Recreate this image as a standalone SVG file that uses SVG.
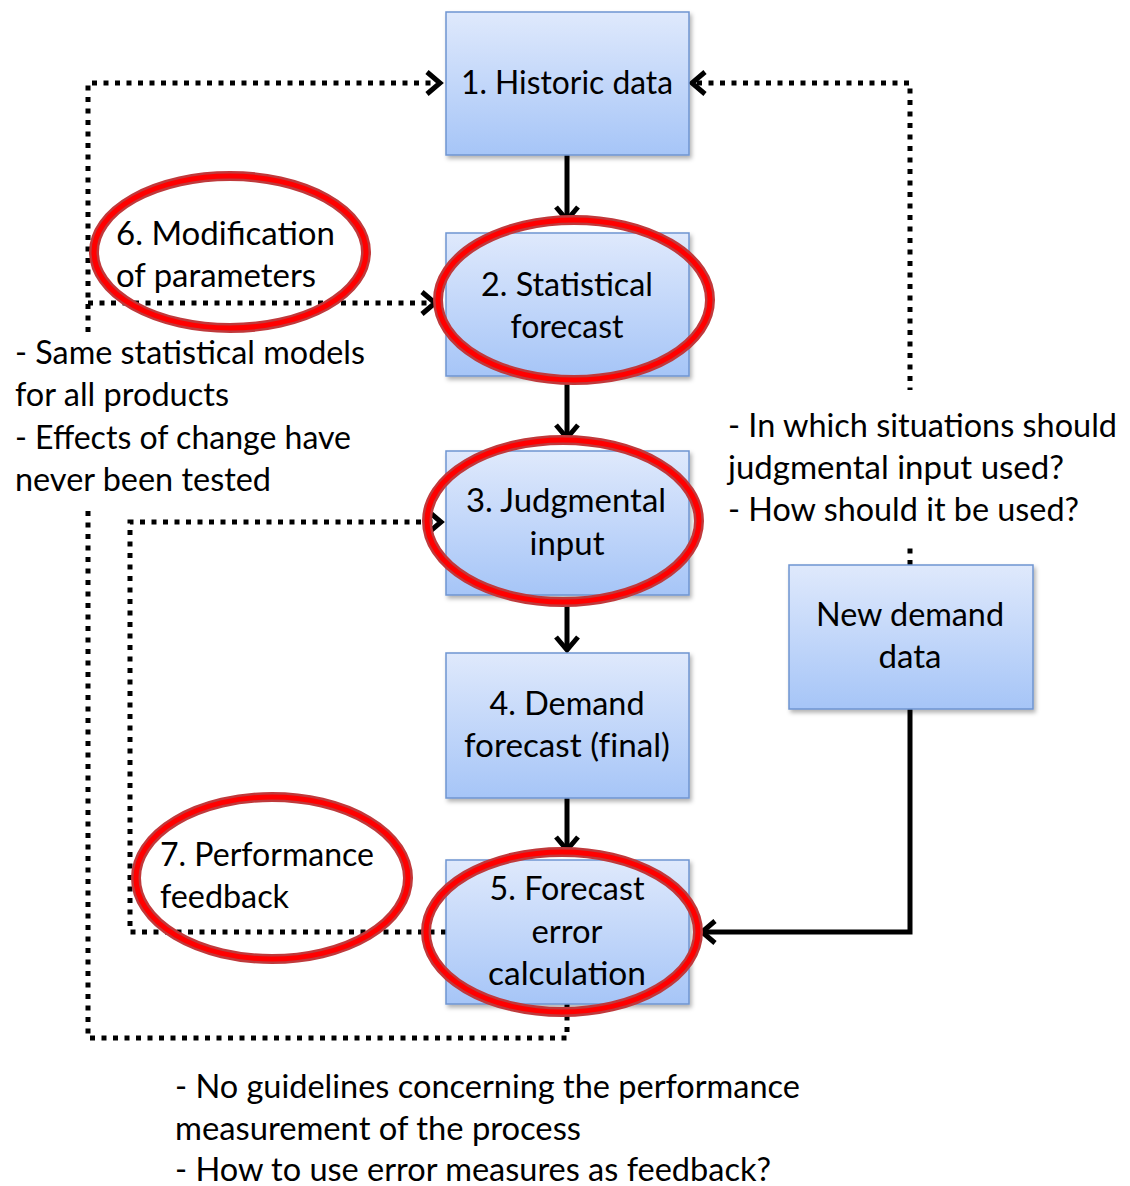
<svg xmlns="http://www.w3.org/2000/svg" width="1130" height="1186" viewBox="0 0 1130 1186">
  <defs>
    <linearGradient id="boxFill" x1="0" y1="0" x2="0" y2="1">
      <stop offset="0" stop-color="#dfe9fc"/>
      <stop offset="1" stop-color="#a6c5f7"/>
    </linearGradient>
    <filter id="shadow" x="-10%" y="-10%" width="125%" height="125%">
      <feDropShadow dx="2" dy="3" stdDeviation="2" flood-color="#000" flood-opacity="0.3"/>
    </filter>
    <marker id="chev" markerUnits="userSpaceOnUse" viewBox="-18 -15 22 30" markerWidth="22" markerHeight="30" refX="0" refY="0" orient="auto">
      <path d="M -13 -11 L 0 0 L -13 11" fill="none" stroke="#000" stroke-width="5" stroke-linejoin="miter"/>
    </marker>
  </defs>
  <style>
    .box { fill: url(#boxFill); stroke: #6f95d1; stroke-width: 1.5; filter: url(#shadow); }
    .t { font-family: Lato, "Open Sans", "Liberation Sans", sans-serif; font-size: 33px; fill: #000; }
    .solid { fill: none; stroke: #000; stroke-width: 5; }
    .dot { fill: none; stroke: #000; stroke-width: 5; stroke-dasharray: 5 6.5; }
    .ringOuter { fill: none; stroke: #c0393b; stroke-width: 10; }
    .ringInner { fill: none; stroke: #ff0000; stroke-width: 5; }
    .note { fill: #fff; stroke: none; }
  </style>
  <rect width="1130" height="1186" fill="#fff"/>

  <!-- connectors -->
  <g id="connectors">
    <!-- main flow -->
    <path class="solid" d="M 567 155 V 220" marker-end="url(#chev)"/>
    <path class="solid" d="M 567 376 V 438" marker-end="url(#chev)"/>
    <path class="solid" d="M 567 600 V 650" marker-end="url(#chev)"/>
    <path class="solid" d="M 567 798 V 850" marker-end="url(#chev)"/>
    <!-- new demand data into error calculation -->
    <path class="solid" d="M 910 709 V 932 H 702" marker-end="url(#chev)"/>
    <!-- new demand data back to historic data -->
    <path class="dot" d="M 910 565 V 83 H 692" marker-end="url(#chev)"/>
    <!-- error calculation back to historic data and statistical forecast -->
    <path class="dot" d="M 567 1004 V 1038 H 88 V 83 H 440" marker-end="url(#chev)"/>
    <path class="dot" d="M 88 303 H 435" marker-end="url(#chev)"/>
    <!-- performance feedback to judgmental input -->
    <path class="dot" d="M 446 932 H 130 V 522 H 441" marker-end="url(#chev)"/>
  </g>

  <!-- nodes -->
  <g id="n1">
    <rect class="box" x="446" y="12" width="243" height="143"/>
    <text class="t" x="567" y="94" text-anchor="middle" textLength="212" lengthAdjust="spacingAndGlyphs">1. Historic data</text>
  </g>
  <g id="n2">
    <rect class="box" x="446" y="233" width="243" height="143"/>
    <text class="t" x="567" y="296" text-anchor="middle" textLength="172" lengthAdjust="spacingAndGlyphs">2. Statistical</text>
    <text class="t" x="567" y="338" text-anchor="middle" textLength="113" lengthAdjust="spacingAndGlyphs">forecast</text>
  </g>
  <g id="n3">
    <rect class="box" x="446" y="451" width="243" height="144"/>
    <text class="t" x="566" y="512" text-anchor="middle" textLength="200" lengthAdjust="spacingAndGlyphs">3. Judgmental</text>
    <text class="t" x="567" y="555" text-anchor="middle" textLength="75" lengthAdjust="spacingAndGlyphs">input</text>
  </g>
  <g id="n4">
    <rect class="box" x="446" y="653" width="243" height="145"/>
    <text class="t" x="567" y="715" text-anchor="middle" textLength="155" lengthAdjust="spacingAndGlyphs">4. Demand</text>
    <text class="t" x="567" y="757" text-anchor="middle" textLength="206" lengthAdjust="spacingAndGlyphs" style="font-variant-ligatures: none">forecast (final)</text>
  </g>
  <g id="n5">
    <rect class="box" x="446" y="860" width="243" height="144"/>
    <text class="t" x="567" y="900" text-anchor="middle" textLength="155" lengthAdjust="spacingAndGlyphs">5. Forecast</text>
    <text class="t" x="567" y="943" text-anchor="middle" textLength="71" lengthAdjust="spacingAndGlyphs">error</text>
    <text class="t" x="567" y="985" text-anchor="middle" textLength="158" lengthAdjust="spacingAndGlyphs">calculation</text>
  </g>
  <g id="newDemand">
    <rect class="box" x="789" y="565" width="244" height="144"/>
    <text class="t" x="910" y="626" text-anchor="middle" textLength="188" lengthAdjust="spacingAndGlyphs">New demand</text>
    <text class="t" x="910" y="668" text-anchor="middle" textLength="63" lengthAdjust="spacingAndGlyphs">data</text>
  </g>

  <!-- issue notes -->
  <g id="noteModels">
    <rect class="note" x="8" y="332" width="364" height="176"/>
    <text class="t" x="15" y="364" textLength="350" lengthAdjust="spacingAndGlyphs">- Same statistical models</text>
    <text class="t" x="15" y="406" textLength="214" lengthAdjust="spacingAndGlyphs">for all products</text>
    <text class="t" x="15" y="449" textLength="336" lengthAdjust="spacingAndGlyphs">- Effects of change have</text>
    <text class="t" x="15" y="491" textLength="256" lengthAdjust="spacingAndGlyphs">never been tested</text>
  </g>
  <g id="noteJudgment">
    <rect class="note" x="722" y="390" width="400" height="155"/>
    <text class="t" x="728" y="437" textLength="389" lengthAdjust="spacingAndGlyphs">- In which situations should</text>
    <text class="t" x="728" y="479" textLength="336" lengthAdjust="spacingAndGlyphs">judgmental input used?</text>
    <text class="t" x="728" y="521" textLength="351" lengthAdjust="spacingAndGlyphs">- How should it be used?</text>
  </g>
  <g id="notePerformance">
    <text class="t" x="175" y="1098" textLength="625" lengthAdjust="spacingAndGlyphs">- No guidelines concerning the performance</text>
    <text class="t" x="175" y="1140" textLength="406" lengthAdjust="spacingAndGlyphs">measurement of the process</text>
    <text class="t" x="175" y="1181" textLength="596" lengthAdjust="spacingAndGlyphs">- How to use error measures as feedback?</text>
  </g>

  <!-- highlighted steps -->
  <g id="ring6">
    <ellipse class="ringOuter" cx="230" cy="252" rx="136" ry="76"/>
    <ellipse class="ringInner" cx="230" cy="252" rx="136" ry="76"/>
    <text class="t" x="116" y="245" textLength="219" lengthAdjust="spacingAndGlyphs">6. Modification</text>
    <text class="t" x="116" y="287" textLength="200" lengthAdjust="spacingAndGlyphs">of parameters</text>
  </g>
  <g id="ring2">
    <ellipse class="ringOuter" cx="574" cy="300" rx="136" ry="80"/>
    <ellipse class="ringInner" cx="574" cy="300" rx="136" ry="80"/>
  </g>
  <g id="ring3">
    <ellipse class="ringOuter" cx="563" cy="521" rx="136" ry="81"/>
    <ellipse class="ringInner" cx="563" cy="521" rx="136" ry="81"/>
  </g>
  <g id="ring7">
    <ellipse class="ringOuter" cx="272" cy="878" rx="136" ry="81"/>
    <ellipse class="ringInner" cx="272" cy="878" rx="136" ry="81"/>
    <text class="t" x="160" y="866" textLength="214" lengthAdjust="spacingAndGlyphs">7. Performance</text>
    <text class="t" x="160" y="908" textLength="129" lengthAdjust="spacingAndGlyphs">feedback</text>
  </g>
  <g id="ring5">
    <ellipse class="ringOuter" cx="562" cy="932" rx="136" ry="80"/>
    <ellipse class="ringInner" cx="562" cy="932" rx="136" ry="80"/>
  </g>
</svg>
